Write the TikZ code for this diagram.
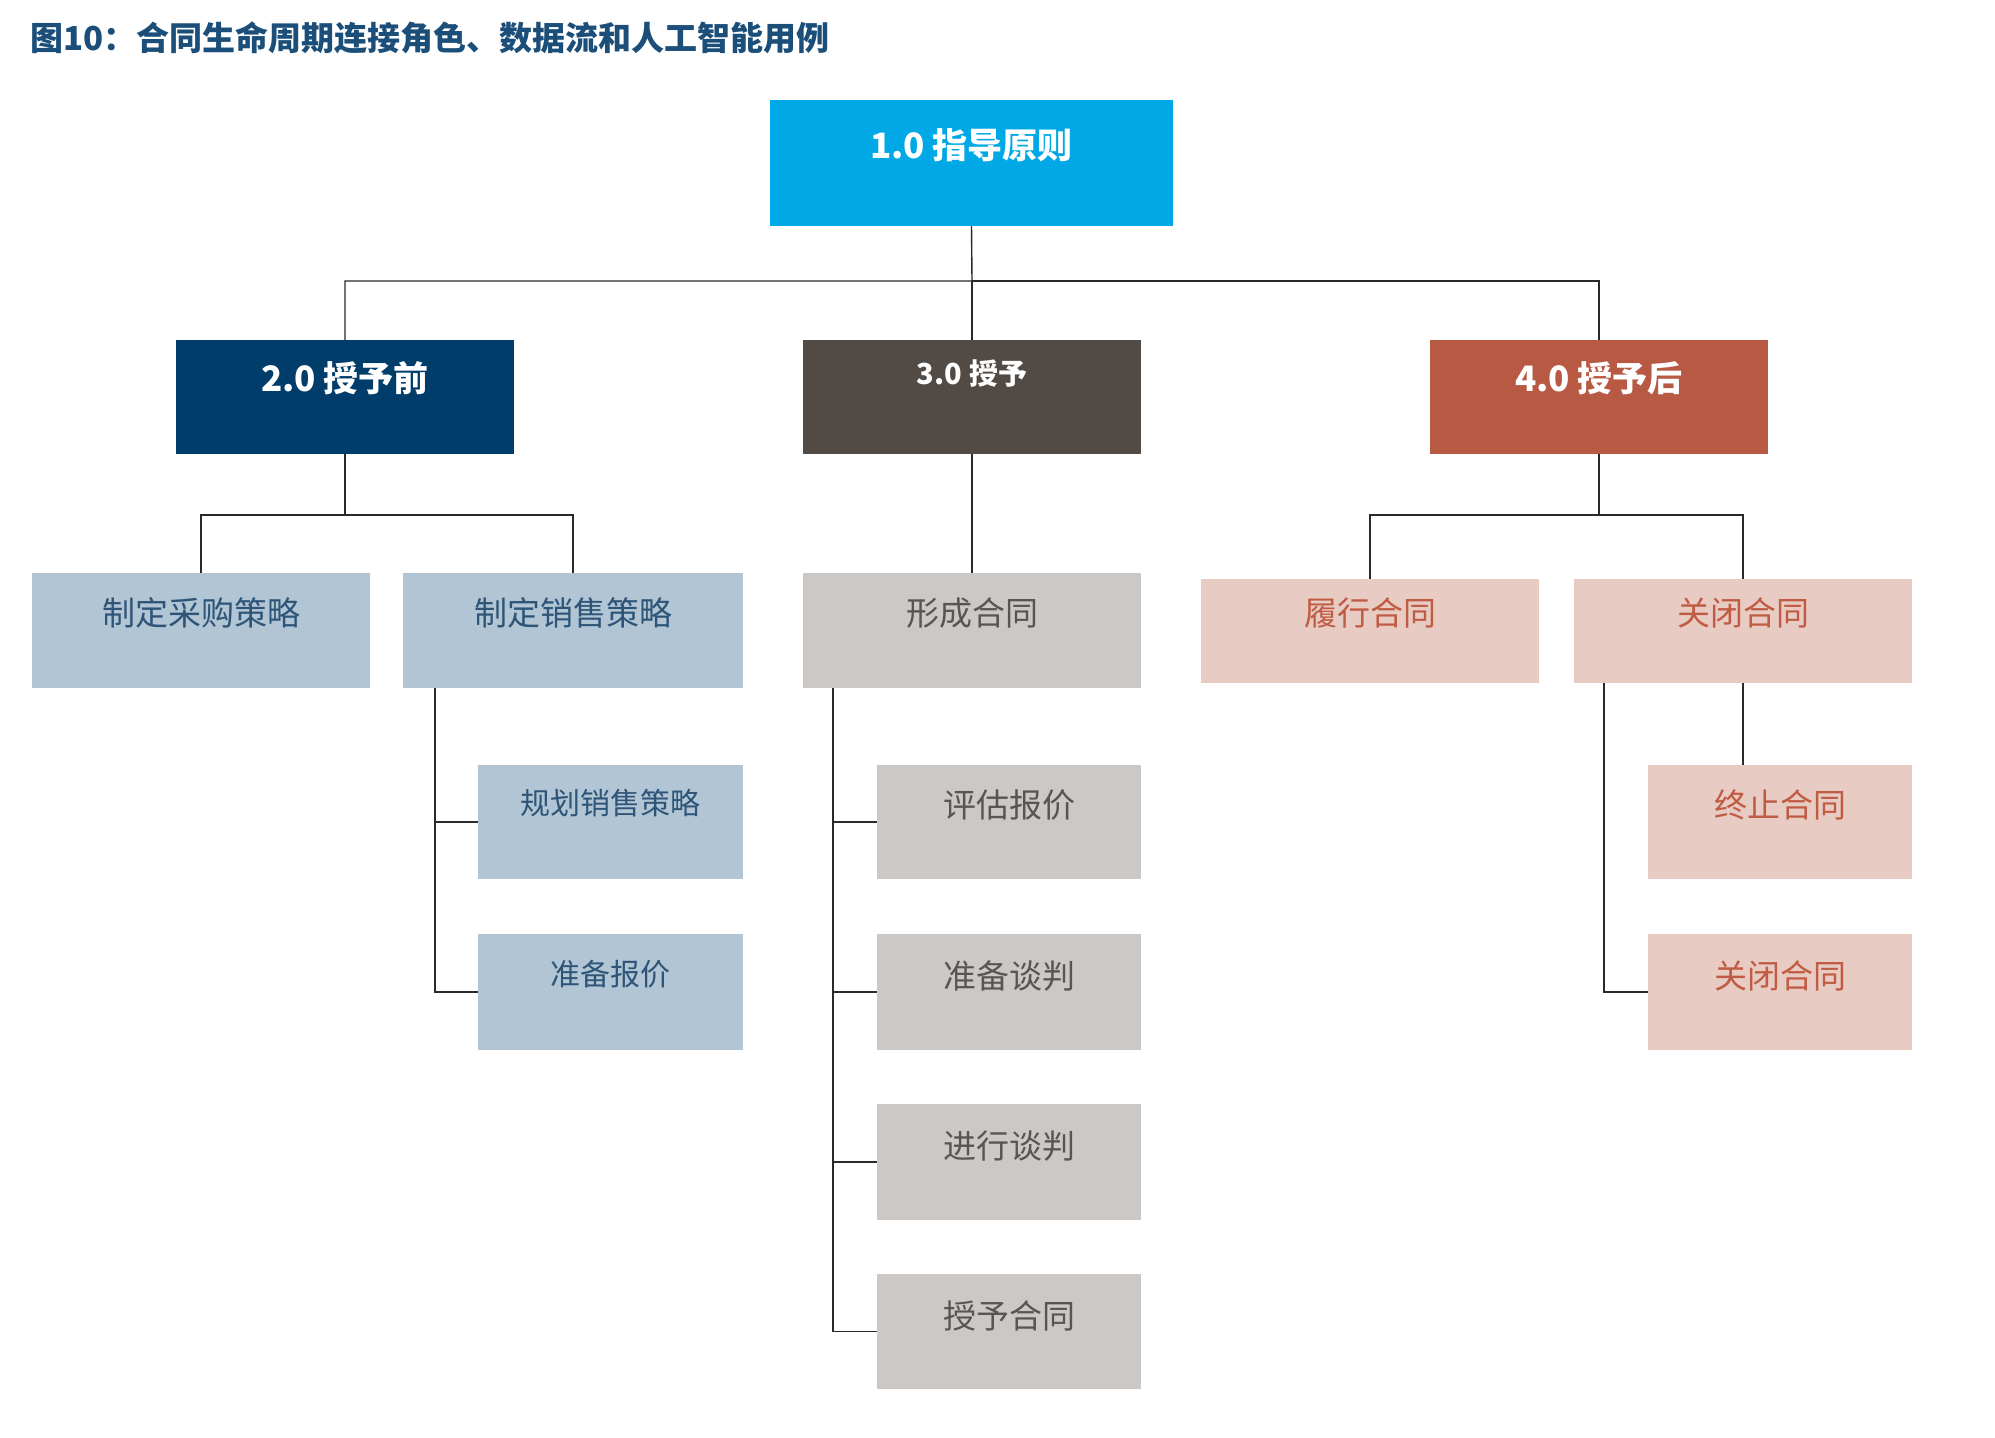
\documentclass[tikz,border=0pt]{standalone}
\usepackage{fontspec}
\setmainfont{Noto Sans CJK SC}
\usetikzlibrary{fit,calc}
\definecolor{topblue}{HTML}{00A9E6}
\definecolor{navy}{HTML}{003D6B}
\definecolor{brownd}{HTML}{524A44}
\definecolor{rust}{HTML}{B85A43}
\definecolor{lblue}{HTML}{B1C5D5}
\definecolor{lbluetxt}{HTML}{2E5577}
\definecolor{lgray}{HTML}{CCC8C5}
\definecolor{lgraytxt}{HTML}{5A5550}
\definecolor{lpink}{HTML}{E8CBC2}
\definecolor{lpinktxt}{HTML}{C05C43}
\definecolor{titleblue}{HTML}{1B4F7A}
\definecolor{linec}{HTML}{2A2A2A}
\tikzset{
  boxbase/.style={inner sep=0pt, outer sep=0pt, draw=none},
  topbox/.style={boxbase, fill=topblue},
  navybox/.style={boxbase, fill=navy},
  brownbox/.style={boxbase, fill=brownd},
  rustbox/.style={boxbase, fill=rust},
  bluebox/.style={boxbase, fill=lblue},
  graybox/.style={boxbase, fill=lgray},
  pinkbox/.style={boxbase, fill=lpink},
  headtxt/.style={text=white, font=\fontsize{17.5}{20}\selectfont\bfseries, inner sep=0pt},
  bluetxt/.style={text=lbluetxt, font=\fontsize{16.5}{20}\selectfont, inner sep=0pt},
  graytxt/.style={text=lgraytxt, font=\fontsize{16.5}{20}\selectfont, inner sep=0pt},
  pinktxt/.style={text=lpinktxt, font=\fontsize{16.5}{20}\selectfont, inner sep=0pt},
  conn/.style={draw=linec, line width=0.7pt},
}
\begin{document}
\begin{tikzpicture}[x=0.5pt, y=-0.5pt]
\useasboundingbox[fill=white] (0,0) rectangle (1995,1437);
% title
\node[anchor=west, inner sep=0pt, text=titleblue, font=\fontsize{16.5}{20}\selectfont\bfseries] (title) at (30,38) {图10：合同生命周期连接角色、数据流和人工智能用例};
% level 1
\node[topbox, fit={(770,100) (1173,226)}] (top) {};
\node[headtxt] (topt) at ($(top.north)+(0,45)$) {1.0 指导原则};
% level 2
\node[navybox, fit={(176,340) (514,454)}] (b2) {};
\node[headtxt] (b2t) at ($(b2.north)+(0,38)$) {2.0 授予前};
\node[brownbox, fit={(803,340) (1141,454)}] (b3) {};
\node[headtxt, font=\fontsize{14.5}{17}\selectfont\bfseries] (b3t) at ($(b3.north)+(0,33)$) {3.0 授予};
\node[rustbox, fit={(1430,340) (1768,454)}] (b4) {};
\node[headtxt] (b4t) at ($(b4.north)+(0,38)$) {4.0 授予后};
% level 3
\node[bluebox, fit={(32,573) (370,688)}] (c21) {};
\node[bluetxt] (c21t) at ($(c21.north)+(0,40)$) {制定采购策略};
\node[bluebox, fit={(403,573) (743,688)}] (c22) {};
\node[bluetxt] (c22t) at ($(c22.north)+(0,40)$) {制定销售策略};
\node[graybox, fit={(803,573) (1141,688)}] (c3) {};
\node[graytxt] (c3t) at ($(c3.north)+(0,40)$) {形成合同};
\node[pinkbox, fit={(1201,579) (1539,683)}] (c41) {};
\node[pinktxt] (c41t) at ($(c41.north)+(0,34)$) {履行合同};
\node[pinkbox, fit={(1574,579) (1912,683)}] (c42) {};
\node[pinktxt] (c42t) at ($(c42.north)+(0,34)$) {关闭合同};
% level 4 - blue
\node[bluebox, fit={(478,765) (743,879)}] (d1) {};
\node[bluetxt, font=\fontsize{15}{18}\selectfont] (d1t) at ($(d1.north)+(0,38)$) {规划销售策略};
\node[bluebox, fit={(478,934) (743,1050)}] (d2) {};
\node[bluetxt, font=\fontsize{15}{18}\selectfont] (d2t) at ($(d2.north)+(0,40)$) {准备报价};
% level 4 - gray
\node[graybox, fit={(877,765) (1141,879)}] (e1) {};
\node[graytxt] (e1t) at ($(e1.north)+(0,40)$) {评估报价};
\node[graybox, fit={(877,934) (1141,1050)}] (e2) {};
\node[graytxt] (e2t) at ($(e2.north)+(0,42)$) {准备谈判};
\node[graybox, fit={(877,1104) (1141,1220)}] (e3) {};
\node[graytxt] (e3t) at ($(e3.north)+(0,42)$) {进行谈判};
\node[graybox, fit={(877,1274) (1141,1389)}] (e4) {};
\node[graytxt] (e4t) at ($(e4.north)+(0,42)$) {授予合同};
% level 4 - pink
\node[pinkbox, fit={(1648,765) (1912,879)}] (f1) {};
\node[pinktxt] (f1t) at ($(f1.north)+(0,40)$) {终止合同};
\node[pinkbox, fit={(1648,934) (1912,1050)}] (f2) {};
\node[pinktxt] (f2t) at ($(f2.north)+(0,42)$) {关闭合同};
% connectors
\coordinate (j1) at (972,281);
\draw[conn] (top.south) -- (j1) -| (b2.north);
\draw[conn] (j1) -| (b4.north);
\draw[conn] (j1) -- (b3.north);
\coordinate (j2) at (345,515);
\draw[conn] (b2.south) -- (j2) -| (c21.north);
\draw[conn] (j2) -| (c22.north);
\draw[conn] (b3.south) -- (c3.north);
\coordinate (j4) at (1599,515);
\draw[conn] (b4.south) -- (j4) -| (c41.north);
\draw[conn] (j4) -| (c42.north);
\coordinate (k22) at ($(c22.south west)+(32,0)$);
\draw[conn] (k22) |- (d1.west);
\draw[conn] (k22) |- (d2.west);
\coordinate (k3) at ($(c3.south west)+(30,0)$);
\draw[conn] (k3) |- (e1.west);
\draw[conn] (k3) |- (e2.west);
\draw[conn] (k3) |- (e3.west);
\draw[conn] (k3) |- (e4.west);
\draw[conn] (c42.south) -- (c42.south |- f1.north);
\coordinate (k42) at ($(c42.south west)+(30,0)$);
\draw[conn] (k42) |- (f2.west);
\end{tikzpicture}
\end{document}
